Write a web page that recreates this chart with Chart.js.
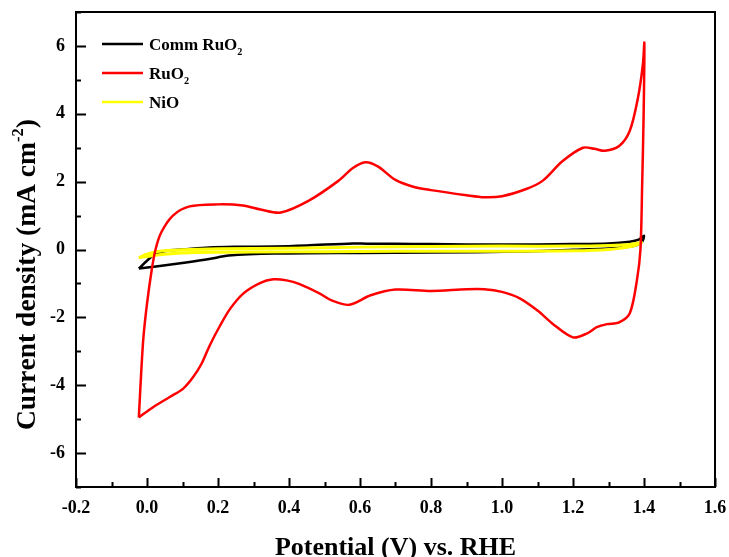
<!DOCTYPE html>
<html>
<head>
<meta charset="utf-8">
<title>Cyclic voltammetry</title>
<script src="https://cdn.jsdelivr.net/npm/chart.js@4.4.0/dist/chart.umd.min.js"></script>
<style>
  html, body { margin: 0; padding: 0; background: #fff; }
  canvas { display: block; }
</style>
</head>
<body>
<canvas id="cv" width="729" height="557"></canvas>
<script>
// CV sweeps: potential in V vs RHE, current density in mA cm-2
const seriesNames = ['Comm RuO₂', 'RuO₂', 'NiO'];
const seriesColors = ['#000000', '#ff0000', '#ffff00'];
const seriesWidths = [2.5, 2.5, 3];

const potComm = [-0.023, 0.0, 0.025, 0.06, 0.1, 0.175, 0.25, 0.36, 0.45, 0.58, 0.62, 0.7, 0.8, 0.9, 1.0, 1.1, 1.2, 1.3, 1.36, 1.385, 1.4,
                 1.393, 1.37, 1.3, 1.2, 1.05, 0.8, 0.6, 0.36, 0.23, 0.175, 0.11, 0.025, -0.023];
const curComm = [-0.56, -0.33, -0.12, -0.03, 0.0, 0.06, 0.08, 0.09, 0.12, 0.18, 0.17, 0.17, 0.16, 0.15, 0.15, 0.15, 0.16, 0.18, 0.23, 0.29, 0.41,
                 0.2, 0.1, 0.03, -0.01, -0.06, -0.09, -0.1, -0.12, -0.18, -0.28, -0.38, -0.5, -0.56];

const potRuO2 = [-0.023, -0.016, -0.01, 0.0, 0.013, 0.024, 0.04, 0.073, 0.12, 0.2, 0.27, 0.32, 0.377, 0.456, 0.54, 0.58, 0.615, 0.65, 0.7, 0.75, 0.8, 0.9,
                 0.95, 1.0, 1.07, 1.115, 1.17, 1.228, 1.26, 1.29, 1.33, 1.36, 1.383, 1.397, 1.401,
                 1.399, 1.395, 1.39, 1.38, 1.36, 1.33, 1.296, 1.267, 1.24, 1.2, 1.144, 1.1, 1.05, 1.0, 0.95, 0.9, 0.8, 0.7, 0.63,
                 0.57, 0.52, 0.487, 0.43, 0.393, 0.356, 0.318, 0.271, 0.234, 0.206, 0.177, 0.154, 0.13, 0.102, 0.065, 0.018, -0.023];
const curRuO2 = [-4.95, -3.56, -2.58, -1.6, -0.62, 0.0, 0.5, 1.0, 1.27, 1.33, 1.3, 1.18, 1.09, 1.44, 2.03, 2.4, 2.57, 2.45, 2.05, 1.85, 1.75, 1.6,
                 1.54, 1.57, 1.79, 2.03, 2.6, 3.0, 2.97, 2.91, 3.05, 3.5, 4.47, 5.47, 6.09,
                 4.0, 2.0, 0.0, -0.91, -1.88, -2.15, -2.2, -2.29, -2.47, -2.59, -2.2, -1.8, -1.44, -1.25, -1.17, -1.17, -1.22, -1.18, -1.35,
                 -1.63, -1.5, -1.3, -1.02, -0.91, -0.88, -0.99, -1.3, -1.75, -2.24, -2.82, -3.36, -3.76, -4.1, -4.34, -4.64, -4.95];

const potNiO = [-0.023, 0.0, 0.03, 0.1, 0.2, 0.4, 0.6, 0.8, 1.0, 1.2, 1.3, 1.36, 1.393,
                1.37, 1.3, 1.2, 1.0, 0.8, 0.6, 0.4, 0.2, 0.1, 0.03, -0.023];
const curNiO = [-0.24, -0.14, -0.06, -0.01, 0.02, 0.04, 0.07, 0.09, 0.1, 0.1, 0.12, 0.15, 0.21,
                0.1, 0.0, -0.04, -0.05, -0.05, -0.06, -0.07, -0.08, -0.1, -0.16, -0.24];

const xTitle = 'Potential (V) vs. RHE';
const yTitle = 'Current density (mA cm⁻²)';

const FONT = '"Liberation Serif", "Times New Roman", serif';
Chart.defaults.font.family = FONT;
Chart.defaults.color = '#000';

const pairs = (xs, ys) => xs.map((x, i) => ({ x: x, y: ys[i] }));
const sweeps = [pairs(potComm, curComm), pairs(potRuO2, curRuO2), pairs(potNiO, curNiO)];
const stacking = [2, 0, 1]; // red on top, then yellow, black underneath

const datasets = seriesNames.map((name, i) => ({
  label: name,
  data: sweeps[i],
  showLine: true,
  borderColor: seriesColors[i],
  backgroundColor: seriesColors[i],
  borderWidth: seriesWidths[i],
  pointRadius: 0,
  tension: 0.3,
  order: stacking[i]
}));

// text with sub/superscript digits
const SUB = { '₂': '2' };
const SUP = { '⁻': '-', '²': '2' };
function richText(ctx, text, x, y, size, draw) {
  let cx = x;
  for (const ch of text) {
    let c = ch, s = size, dy = 0;
    if (SUB[ch]) { c = SUB[ch]; s = size * 0.6; dy = size * 0.28; }
    else if (SUP[ch]) { c = SUP[ch]; s = size * 0.6; dy = -size * 0.42; }
    ctx.font = 'bold ' + s + 'px ' + FONT;
    if (draw) ctx.fillText(c, cx, y + dy);
    cx += ctx.measureText(c).width;
  }
  return cx - x;
}

const frame = {
  id: 'frame',
  afterDraw(chart) {
    const ctx = chart.ctx;
    const a = chart.chartArea;
    const sx = chart.scales.x, sy = chart.scales.y;
    ctx.save();
    ctx.strokeStyle = '#000';
    ctx.fillStyle = '#000';
    ctx.lineWidth = 2;
    ctx.strokeRect(a.left, a.top, a.right - a.left, a.bottom - a.top);

    // inward ticks, long on labelled values
    ctx.beginPath();
    sx.ticks.forEach(t => {
      const px = Math.round(sx.getPixelForValue(t.value)) + 0.5;
      const len = Math.round(t.value * 10) % 2 === 0 ? 9 : 5;
      ctx.moveTo(px, a.bottom);
      ctx.lineTo(px, a.bottom - len);
    });
    sy.ticks.forEach(t => {
      const py = Math.round(sy.getPixelForValue(t.value)) + 0.5;
      const len = t.value % 2 === 0 ? 10 : 5;
      ctx.moveTo(a.left, py);
      ctx.lineTo(a.left + len, py);
    });
    ctx.stroke();

    // legend
    ctx.textBaseline = 'alphabetic';
    ctx.textAlign = 'left';
    chart.data.datasets.forEach((ds, i) => {
      const ry = a.top + 32 + i * 29;
      ctx.strokeStyle = ds.borderColor;
      ctx.lineWidth = 2.5;
      ctx.beginPath();
      ctx.moveTo(a.left + 26, ry);
      ctx.lineTo(a.left + 67, ry);
      ctx.stroke();
      richText(ctx, ds.label, a.left + 73, ry + 6, 17, true);
    });

    // axis titles
    const xw = richText(ctx, xTitle, 0, 0, 26, false);
    richText(ctx, xTitle, (a.left + a.right) / 2 - xw / 2, 555, 26, true);
    ctx.translate(35, 430);
    ctx.rotate(-Math.PI / 2);
    richText(ctx, yTitle, 0, 0, 27.5, true);
    ctx.restore();
  }
};

new Chart(document.getElementById('cv'), {
  type: 'scatter',
  data: { datasets: datasets },
  options: {
    responsive: false,
    animation: false,
    layout: { padding: { top: 12, right: 14, left: 0, bottom: 0 } },
    plugins: { legend: { display: false }, tooltip: { enabled: false } },
    scales: {
      x: {
        type: 'linear', min: -0.2, max: 1.6,
        grid: { display: false, drawTicks: false },
        border: { display: false },
        ticks: {
          stepSize: 0.1, padding: 11, autoSkip: false, maxRotation: 0,
          font: { size: 18, weight: 'bold' },
          callback: v => Math.round(v * 10) % 2 === 0 ? v.toFixed(1) : ''
        },
        afterFit: s => { s.height = 70; s.paddingLeft = 0; s.paddingRight = 0; }
      },
      y: {
        type: 'linear', min: -7, max: 7,
        grid: { display: false, drawTicks: false },
        border: { display: false },
        ticks: {
          stepSize: 1, padding: 11, autoSkip: false,
          font: { size: 18, weight: 'bold' },
          callback: v => v % 2 === 0 ? String(v) : ''
        },
        afterFit: s => { s.width = 76; s.paddingTop = 0; s.paddingBottom = 0; }
      }
    }
  },
  plugins: [frame]
});
</script>
</body>
</html>
